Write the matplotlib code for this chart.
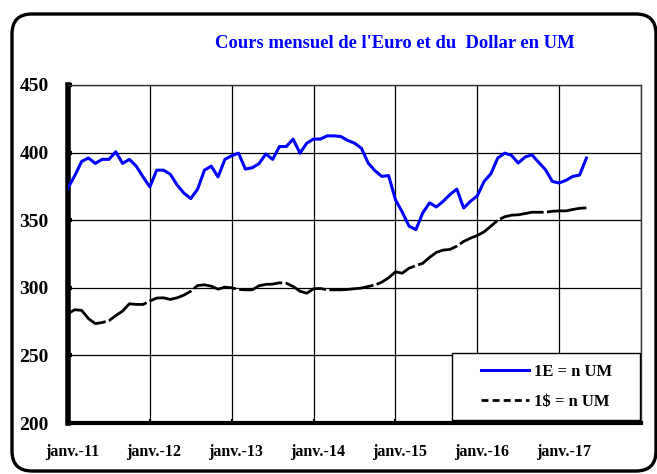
import matplotlib
matplotlib.use('Agg')
import matplotlib.pyplot as plt
import matplotlib.transforms as mtransforms
from matplotlib.lines import Line2D
from matplotlib.patches import FancyBboxPatch, Rectangle

# Monthly values, janv.-11 .. mai-17
euro = [373.8, 383, 393.5, 396, 392, 395, 395, 400.6, 392, 395, 390, 382,
        374.6, 387, 387, 384, 376, 370, 366, 373, 387, 390, 382, 395,
        397.7, 399.6, 387.8, 388.8, 391.8, 399, 395, 404.5, 404.5, 410, 399.6, 407,
        410, 410, 412.4, 412.4, 411.9, 409, 407, 403.3, 392.3, 386.6, 382.4, 383,
        365.2, 356, 345.6, 343, 355.4, 362.8, 359.8, 364, 369, 373, 359, 364,
        368, 378.7, 384.4, 396, 399.6, 398, 392.3, 396.7, 398.4, 392.8, 387.3, 378.7,
        377.5, 379.5, 382.4, 383.4, 396]
dollar = [280.9, 283.8, 283.3, 277.2, 273.5, 274.3, 275.7, 279.4, 282.8, 288.2, 287.7, 287.7,
          290.2, 292.4, 292.6, 291.4, 292.6, 294.6, 297.5, 301.7, 302.2, 301.2, 299, 300.5,
          300, 298.8, 298.5, 298.5, 301.5, 302.5, 302.7, 303.7, 303.4, 301, 297.5, 296,
          299.3, 299.5, 298.5, 298.5, 298.5, 298.8, 299.3, 299.8, 301, 302, 304.2, 307.4,
          311.8, 310.8, 314.5, 316.4, 318.1, 322.5, 326.2, 327.9, 328.4, 330.8, 334.3, 336.7,
          338.7, 341.4, 345.6, 350, 352.5, 353.7, 354, 354.9, 355.9, 355.9, 355.9, 356.6,
          356.9, 356.9, 357.9, 358.8, 359.1]
year_labels = ['janv.-11', 'janv.-12', 'janv.-13', 'janv.-14', 'janv.-15', 'janv.-16', 'janv.-17']
y_ticks = [200, 250, 300, 350, 400, 450]
title = "Cours mensuel de l'Euro et du  Dollar en UM"
serif = ['Liberation Serif', 'DejaVu Serif']

fig = plt.figure(figsize=(6.57, 4.74), dpi=100)
ax = fig.add_axes([68 / 657, 51 / 474, 573 / 657, 338 / 474])

months = list(range(len(euro)))
ax.plot(months, euro, color='#0000ff', lw=2.2, solid_joinstyle='round', zorder=3)
ax.plot(months, dollar, color='black', lw=2.0, linestyle=(0, (16, 1.2)), zorder=3)

ax.set_xlim(0, 84)
ax.set_ylim(200, 450)
ax.set_yticks(y_ticks)
ax.set_xticks(range(0, 85, 12))
ax.grid(True, color='black', lw=0.9)
ax.set_axisbelow(True)

ax.set_xticklabels(year_labels + [''], fontfamily=serif, fontweight='bold', fontsize=11.5)
ax.set_yticklabels([str(v) for v in y_ticks], fontfamily=serif, fontweight='bold', fontsize=14)
ax.tick_params(axis='x', length=3, width=1.5, direction='in', pad=15)
ax.tick_params(axis='y', length=3, width=3, direction='in', pad=14)
offset = mtransforms.ScaledTranslation(4 / 100, 0, fig.dpi_scale_trans)
for lab in ax.get_xticklabels():
    lab.set_transform(lab.get_transform() + offset)

for side in ['top', 'right']:
    ax.spines[side].set_color('#333333')
    ax.spines[side].set_linewidth(1)
ax.spines['left'].set_linewidth(4)
ax.spines['bottom'].set_linewidth(3)

# legend box drawn separately so it can keep its wide margins
ax.add_patch(Rectangle((0.670, 0.009), 0.328, 0.198, transform=ax.transAxes,
                       facecolor='white', edgecolor='black', lw=1, zorder=4))
handles = [Line2D([], [], color='#0000ff', lw=2.2),
           Line2D([], [], color='black', lw=2.0, linestyle=(0, (2.5, 1.5)))]
leg = ax.legend(handles, ['1E = n UM', '1\\$ = n UM'], loc='center',
                bbox_to_anchor=(0.835, 0.107), frameon=False,
                borderpad=0, labelspacing=0.8, handlelength=2.9,
                handletextpad=0.3, borderaxespad=0,
                prop={'family': serif, 'weight': 'bold', 'size': 12})
leg.set_zorder(5)

fig.text(395 / 657, 1 - 43 / 474, title, color='#0000ff', fontfamily=serif,
         fontweight='bold', fontsize=13.4, ha='center', va='center')

# rounded outer frame, in pixel coordinates
frame = FancyBboxPatch((12, 3), 644, 457, boxstyle='round,pad=0,rounding_size=20',
                       transform=mtransforms.IdentityTransform(), fill=False,
                       edgecolor='black', lw=2.4, clip_on=False)
fig.patches.append(frame)

fig.savefig('out.png', dpi=100)
